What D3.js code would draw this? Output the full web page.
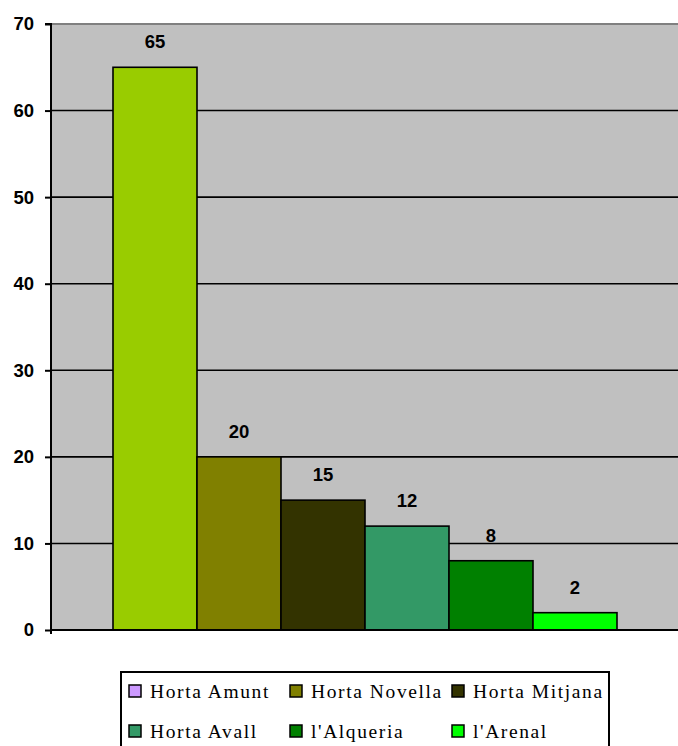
<!DOCTYPE html>
<html><head><meta charset="utf-8">
<script src="https://cdn.jsdelivr.net/npm/d3@7"></script>
<style>body{margin:0;background:#fff}svg{display:block}</style>
</head><body>
<script>
const series = ["Horta Amunt","Horta Novella","Horta Mitjana","Horta Avall","l'Alqueria","l'Arenal"];
const values = [65,20,15,12,8,2];
const yTicks = [0,10,20,30,40,50,60,70];
const barColors = ["#99CC00","#808000","#333300","#339966","#008000","#00FF00"];
const legendColors = ["#CC99FF","#808000","#333300","#339966","#008000","#00FF00"];

const W=678,H=746;
const svg=d3.select("body").append("svg").attr("width",W).attr("height",H);
const L=51,R=679,T=24,B=630;
const y=d3.scaleLinear().domain([0,70]).range([B,T]);
const x=d3.scaleBand().domain(series).range([L+62,R-62]).paddingInner(0);

svg.append("rect").attr("x",L).attr("y",T).attr("width",R-L).attr("height",B-T).attr("fill","#C0C0C0");
svg.append("line").attr("x1",L).attr("x2",R).attr("y1",T).attr("y2",T).attr("stroke","#808080").attr("stroke-width",2);
svg.selectAll(".grid").data(yTicks.filter(d=>d>0&&d<70)).enter().append("line")
  .attr("x1",L).attr("x2",R).attr("y1",d=>y(d)).attr("y2",d=>y(d)).attr("stroke","#000").attr("stroke-width",1.6);

svg.selectAll(".bar").data(values).enter().append("rect")
  .attr("x",(d,i)=>x(series[i])).attr("width",x.bandwidth())
  .attr("y",d=>y(d)).attr("height",d=>B-y(d))
  .attr("fill",(d,i)=>barColors[i]).attr("stroke","#000").attr("stroke-width",1.6);

svg.selectAll(".vl").data(values).enter().append("text")
  .attr("x",(d,i)=>x(series[i])+x.bandwidth()/2).attr("y",d=>y(d)-19)
  .attr("text-anchor","middle").attr("font-family","Liberation Sans, Arial, sans-serif")
  .attr("font-weight","bold").attr("font-size",18.5).text(d=>d);

const yAxis=d3.axisLeft(y).tickValues(yTicks).tickSize(6).tickPadding(11);
const ga=svg.append("g").attr("transform",`translate(${L},0)`).call(yAxis);
ga.select(".domain").attr("stroke","#000").attr("stroke-width",2).attr("d",`M-6,${T}H0V${B+4}`);
ga.selectAll(".tick line").attr("stroke","#000").attr("stroke-width",2);
ga.selectAll(".tick text").attr("font-family","Liberation Sans, Arial, sans-serif").attr("font-weight","bold").attr("font-size",18.5).attr("fill","#000");
svg.append("line").attr("x1",L).attr("x2",R).attr("y1",B).attr("y2",B).attr("stroke","#000").attr("stroke-width",2);

// legend
const lg=svg.append("g");
lg.append("rect").attr("x",121).attr("y",672).attr("width",488).attr("height",90).attr("fill","#fff").attr("stroke","#000").attr("stroke-width",2);
const colX=[129,290,452], rowY=[685,725];
series.forEach((s,i)=>{
  const cx=colX[i%3], cy=rowY[Math.floor(i/3)];
  lg.append("rect").attr("x",cx).attr("y",cy).attr("width",12).attr("height",12).attr("fill",legendColors[i]).attr("stroke","#000").attr("stroke-width",1.5);
  lg.append("text").attr("x",cx+21).attr("y",cy+13).attr("font-family","Liberation Serif, Times New Roman, serif")
    .attr("font-size",19.5).attr("letter-spacing",1.6).attr("fill","#000").text(s);
});
</script>
</body></html>
